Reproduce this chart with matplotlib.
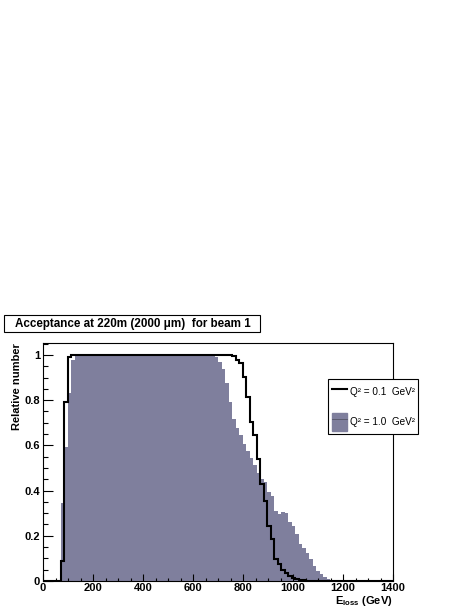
import numpy as np
import matplotlib
matplotlib.use("Agg")
import matplotlib.pyplot as plt
from matplotlib.patches import Rectangle, Patch
from matplotlib.lines import Line2D
from matplotlib.ticker import MultipleLocator

plt.rcParams['font.family'] = ['Liberation Sans', 'DejaVu Sans']
plt.rcParams['mathtext.fontset'] = 'custom'
plt.rcParams['mathtext.rm'] = 'Liberation Sans'
plt.rcParams['mathtext.bf'] = 'Liberation Sans:bold'

# ---- data ----
bin_width = 14
n_bins = 100
bin_edges = np.arange(n_bins + 1) * bin_width

q2_01 = ([0.0] * 5 + [0.09, 0.79, 0.99] + [1.0] * 46 +
         [0.995, 0.978, 0.963, 0.904, 0.815, 0.704, 0.647, 0.541, 0.43, 0.356,
          0.244, 0.187, 0.098, 0.075, 0.05, 0.035, 0.022, 0.015, 0.008, 0.005,
          0.003, 0.002, 0.001] + [0.0] * 23)

q2_10 = ([0.0] * 5 + [0.345, 0.594, 0.833, 0.978] + [1.0] * 40 +
         [0.993, 0.97, 0.938, 0.878, 0.793, 0.715, 0.675, 0.648, 0.607, 0.575,
          0.545, 0.512, 0.478, 0.452, 0.44, 0.392, 0.376, 0.31, 0.296, 0.305,
          0.30, 0.26, 0.244, 0.207, 0.165, 0.148, 0.124, 0.096, 0.067, 0.045,
          0.030, 0.018, 0.011, 0.006, 0.004, 0.003, 0.002, 0.001] + [0.0] * 13)

label_01 = "Q² = 0.1  GeV²"
label_10 = "Q² = 1.0  GeV²"
title = "Acceptance at 220m (2000 μm)  for beam 1"
x_ticks = [0, 200, 400, 600, 800, 1000, 1200, 1400]
y_ticks = [0, 0.2, 0.4, 0.6, 0.8, 1]
y_tick_labels = ["0", "0.2", "0.4", "0.6", "0.8", "1"]

fill_color = "#7f7f9d"

W, H = 472, 611
fig = plt.figure(figsize=(W / 100, H / 100), dpi=100)
ax = fig.add_axes([43 / W, 1 - 581 / H, 350 / W, 238 / H])

ax.stairs(q2_10, bin_edges, fill=True, color=fill_color, linewidth=0)
ax.stairs(q2_01, bin_edges, color="black", linewidth=1.5)

ax.set_xlim(0, 1400)
ax.set_ylim(0, 1.053)
ax.set_xticks(x_ticks)
ax.set_xticklabels([str(v) for v in x_ticks])
ax.set_yticks(y_ticks)
ax.set_yticklabels(y_tick_labels)
ax.xaxis.set_minor_locator(MultipleLocator(50))
ax.yaxis.set_minor_locator(MultipleLocator(0.05))
ax.tick_params(axis='y', which='major', direction='in', length=7.5, width=0.8,
               pad=2, labelsize=8)
ax.tick_params(axis='y', which='minor', direction='in', length=3.8, width=0.8)
ax.tick_params(axis='x', which='major', direction='in', length=5, width=0.8,
               pad=1.2, labelsize=8)
ax.tick_params(axis='x', which='minor', direction='in', length=2.5, width=0.8)
for lab in ax.get_xticklabels() + ax.get_yticklabels():
    lab.set_fontweight('bold')
for s in ax.spines.values():
    s.set_linewidth(0.8)

# axis titles
fig.text(393 / W, 1 - 604 / H, "E$_{\\mathbf{loss}}$ (GeV)", ha='right',
         va='baseline', fontsize=8, fontweight='bold')
fig.text(17 / W, 1 - 343 / H, "Relative number", rotation=90, ha='center', va='top',
         fontsize=8, fontweight='bold')

# title box
fig.patches.append(Rectangle((4 / W, 1 - 332 / H), 256 / W, 17 / H,
                             transform=fig.transFigure, facecolor='white',
                             edgecolor='black', linewidth=0.8))
fig.text(15 / W, 1 - 323.5 / H, title, ha='left', va='center', fontsize=8.4,
         fontweight='bold')

# legend
h1 = Line2D([], [], color='black', linewidth=1.5)
h2 = (Patch(facecolor=fill_color, edgecolor=fill_color),
      Line2D([], [], color='#555566', linewidth=0.6))
leg = fig.legend([h1, h2], [label_01, label_10], loc='upper left',
                 bbox_to_anchor=(328 / W, 1 - 379 / H), borderaxespad=0,
                 fontsize=7.2, handlelength=1.5, handleheight=2.4,
                 labelspacing=1.2, handletextpad=0.3, borderpad=0.35,
                 fancybox=False, framealpha=1, edgecolor='black')
leg.get_frame().set_linewidth(0.8)

fig.savefig("out.png", dpi=100)
